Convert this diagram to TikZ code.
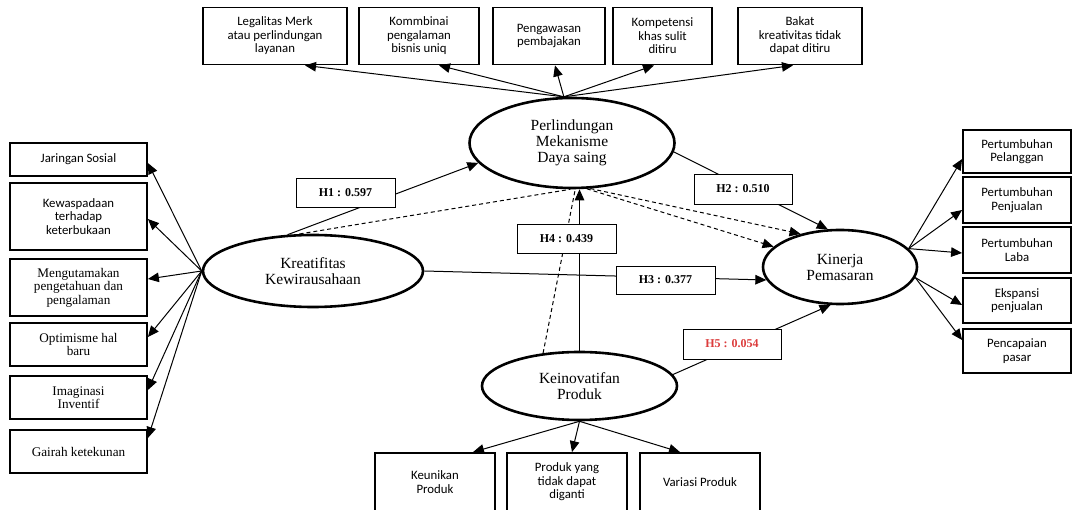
\documentclass[tikz,border=0pt]{standalone}
\usepackage{fontspec}
\setmainfont{Liberation Serif}
\newfontfamily\calib{Carlito}
\usetikzlibrary{shapes.geometric,arrows.meta,calc}
\begin{document}
\begin{tikzpicture}[x=1pt,y=-1pt,
  lat/.style={ellipse, draw, line width=2.6pt, fill=white, inner sep=0pt, align=center, font=\fontsize{15.5}{16}\selectfont},
  ind/.style={draw, line width=1.8pt, fill=white, inner sep=0pt, align=center, font=\calib\fontsize{12.8}{13.5}\selectfont},
  indt/.style={ind, font=\fontsize{13.2}{13.5}\selectfont},
  hyp/.style={draw, line width=0.9pt, fill=white, inner sep=0pt, minimum width=99pt, minimum height=29pt, font=\bfseries\fontsize{12}{14}\selectfont},
  arr/.style={line width=1pt, -{Triangle[length=11pt,width=9.5pt]}},
  dsh/.style={line width=1pt, dash pattern=on 4pt off 3pt},
]
\fill[white] (0,0) rectangle (1074,510);
\useasboundingbox (0,0) rectangle (1074,510);
\clip (0,0) rectangle (1074,510);

% latent constructs
\node[lat, minimum width=205pt, minimum height=90pt] (P) at (572,143) {Perlindungan\\Mekanisme\\Daya saing};
\node[lat, minimum width=220pt, minimum height=72pt] (K) at (313,271) {Kreatifitas\\Kewirausahaan};
\node[lat, minimum width=154pt, minimum height=74pt] (Kin) at (840,267) {Kinerja\\Pemasaran};
\node[lat, minimum width=195pt, minimum height=68pt] (I) at (579.5,386) {Keinovatifan\\Produk};

% top indicators
\node[ind, minimum width=144pt, minimum height=57pt] (t1) at (275,36) {Legalitas Merk\\atau perlindungan\\layanan};
\node[ind, minimum width=120pt, minimum height=57pt] (t2) at (419,36) {Kommbinai\\pengalaman\\bisnis uniq};
\node[ind, minimum width=112pt, minimum height=57pt] (t3) at (549,36) {Pengawasan\\pembajakan};
\node[ind, minimum width=99pt, minimum height=57pt] (t4) at (662.5,36) {Kompetensi\\khas sulit\\ditiru};
\node[ind, minimum width=124pt, minimum height=57pt] (t5) at (800,36) {Bakat\\kreativitas tidak\\dapat ditiru};

% left indicators
\node[ind, minimum width=137pt, minimum height=33pt] (l1) at (78.5,159.5) {Jaringan Sosial};
\node[ind, minimum width=137pt, minimum height=67pt] (l2) at (78.5,216.5) {Kewaspadaan\\terhadap\\keterbukaan};
\node[indt, minimum width=137pt, minimum height=57pt] (l3) at (78.5,287.5) {Mengutamakan\\pengetahuan dan\\pengalaman};
\node[indt, minimum width=137pt, minimum height=43pt] (l4) at (78.5,344.5) {Optimisme hal\\baru};
\node[indt, minimum width=137pt, minimum height=43pt] (l5) at (78.5,397.5) {Imaginasi\\Inventif};
\node[indt, minimum width=137pt, minimum height=43pt] (l6) at (78.5,451.5) {Gairah ketekunan};

% right indicators
\node[ind, minimum width=108pt, minimum height=43pt] (r1) at (1017,151.5) {Pertumbuhan\\Pelanggan};
\node[ind, minimum width=108pt, minimum height=46pt] (r2) at (1017,200) {Pertumbuhan\\Penjualan};
\node[ind, minimum width=108pt, minimum height=46pt] (r3) at (1017,250) {Pertumbuhan\\Laba};
\node[ind, minimum width=108pt, minimum height=45pt] (r4) at (1017,300.5) {Ekspansi\\penjualan};
\node[ind, minimum width=108pt, minimum height=44pt] (r5) at (1017,351) {Pencapaian\\pasar};

% bottom indicators
\node[ind, minimum width=120pt, minimum height=58pt] (b1) at (435,482) {Keunikan\\Produk};
\node[ind, minimum width=120pt, minimum height=58pt] (b2) at (567,482) {Produk yang\\tidak dapat\\diganti};
\node[ind, minimum width=120pt, minimum height=58pt] (b3) at (700,482) {Variasi Produk};

% indicator arrows
\draw[arr] (P.100) -- ($(t1.south)+(30,0)$);
\draw[arr] (P.100) -- ($(t2.south)+(20,0)$);
\draw[arr] (P.100) -- ($(t3.south)+(6,0)$);
\draw[arr] (P.100) -- ($(t4.south)+(-8.5,0)$);
\draw[arr] (P.100) -- ($(t5.south)+(-7,0)$);

\foreach \b/\d in {l1/3.5, l2/2.5, l3/-8.5, l4/-7.5, l5/-7.5, l6/-13.5}
  \draw[arr] (K.west) -- ($(\b.east)+(0,\d)$);

\draw[arr] (Kin.15) -- ($(r1.west)+(0,7.5)$);
\draw[arr] (Kin.15) -- ($(r2.west)+(0,10)$);
\draw[arr] (Kin.15) -- ($(r3.west)+(0,3)$);
\draw[arr] (Kin.-8) -- ($(r4.west)+(0,4.5)$);
\draw[arr] (Kin.-8) -- ($(r5.west)+(0,-11)$);

\draw[arr] (I.south) -- ($(b1.north)+(38,0)$);
\draw[arr] (I.south) -- ($(b2.north)+(5,0)$);
\draw[arr] (I.south) -- ($(b3.north)+(-20,0)$);

% structural paths
\draw[arr] (K.125) -- (P.192);
\draw[arr] (P.-5) -- (Kin.108);
\draw[arr] (K.east) -- (Kin.190);
\draw[arr] (I.north) -- (P.south -| I.north);
\draw[arr] (I.7) -- (Kin.256);

% mediation (dashed)
\draw[dsh] (K.110) -- (P.-92);
\draw[dsh] (I.138) -- (P.-86);
\draw[dsh, -{Triangle[length=11pt,width=9.5pt]}] (P.-72) -- (Kin.163);
\draw[dsh, -{Triangle[length=11pt,width=9.5pt]}] (P.-68) -- (Kin.140);

% hypothesis labels
\node[hyp] (h1) at (345.5,192.5) {H1 : 0.597};
\node[hyp, minimum width=98pt, minimum height=30pt] (h2) at (743,189) {H2 : 0.510};
\node[hyp, minimum height=28pt] (h3) at (665.5,280) {H3 : 0.377};
\node[hyp] (h4) at (566.5,238.5) {H4 : 0.439};
\node[hyp, minimum width=98pt, minimum height=30pt, text={rgb,255:red,220;green,60;blue,60}] (h5) at (732,344) {H5 : 0.054};
\end{tikzpicture}
\end{document}
